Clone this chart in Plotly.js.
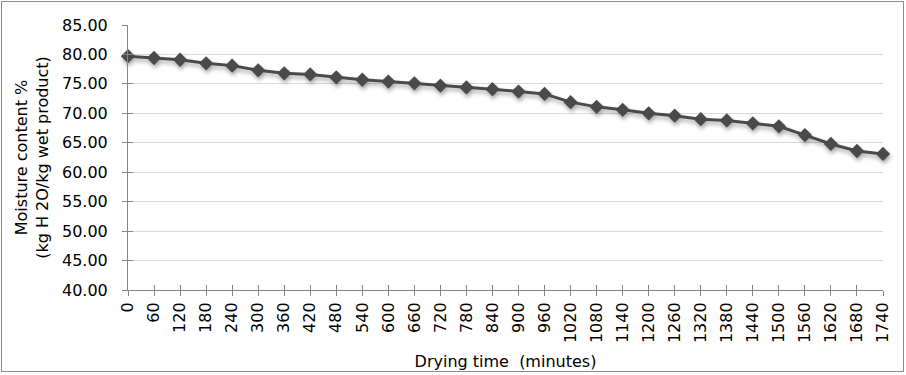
<!DOCTYPE html>
<html>
<head>
<meta charset="utf-8">
<script src="https://cdn.plot.ly/plotly-3.0.1.min.js"></script>
<style>
  html, body { margin: 0; padding: 0; background: #ffffff; }
  #wrap { position: relative; width: 906px; height: 375px; }
  #chart { width: 906px; height: 375px; }
  #frame {
    position: absolute; left: 1px; top: 1px; width: 901px; height: 369px;
    border: 1.5px solid #8c8c8c; pointer-events: none;
  }
  /* soft shadow under the series line and markers */
  #chart .scatterlayer .trace { filter: drop-shadow(1px 3px 2px rgba(0,0,0,0.35)); }
</style>
</head>
<body>
<div id="wrap">
  <div id="chart"></div>
  <div id="frame"></div>
</div>
<script>
// Drying time (minutes)
const dryingTime = [0, 60, 120, 180, 240, 300, 360, 420, 480, 540, 600, 660, 720, 780, 840,
                    900, 960, 1020, 1080, 1140, 1200, 1260, 1320, 1380, 1440, 1500, 1560, 1620, 1680, 1740];
// Moisture content % (kg H2O / kg wet product)
const moisture = [79.7, 79.4, 79.1, 78.5, 78.1, 77.3, 76.8, 76.6, 76.1, 75.7,
                  75.4, 75.1, 74.7, 74.4, 74.1, 73.7, 73.3, 71.9, 71.1, 70.6,
                  70.0, 69.6, 69.0, 68.8, 68.3, 67.8, 66.3, 64.8, 63.6, 63.1];
const yTicks = [40, 45, 50, 55, 60, 65, 70, 75, 80, 85];

const categories = dryingTime.map(String);
const font = { family: 'DejaVu Sans, sans-serif', size: 16, color: '#000000' };
const axisGray = '#868686';

const series = {
  x: categories,
  y: moisture,
  type: 'scatter',
  mode: 'lines+markers',
  cliponaxis: false,
  line: { color: '#4a4a4a', width: 3 },
  marker: { symbol: 'diamond', size: 11, color: '#4a4a4a' },
  hoverinfo: 'x+y'
};

// transparent copy on the overlay axes so their inner tick marks get drawn
const tickCarrier = {
  x: categories,
  y: moisture,
  xaxis: 'x2',
  yaxis: 'y2',
  type: 'scatter',
  mode: 'markers',
  marker: { size: 1, opacity: 0 },
  hoverinfo: 'skip',
  showlegend: false
};

const layout = {
  width: 906,
  height: 375,
  margin: { l: 128, r: 23, t: 25, b: 85 },
  paper_bgcolor: '#ffffff',
  plot_bgcolor: '#ffffff',
  showlegend: false,
  font: font,
  xaxis: {
    type: 'category',
    range: [0, categories.length - 1],
    tickangle: -90,
    ticks: 'outside',
    ticklen: 5,
    tickcolor: axisGray,
    showline: true,
    linecolor: axisGray,
    linewidth: 1,
    showgrid: false,
    zeroline: false,
    tickfont: font,
    title: { text: 'Drying time\u00a0\u00a0(minutes)', font: font, standoff: 13 }
  },
  // inner ticks so the tick marks cross the axis lines
  xaxis2: {
    type: 'category',
    overlaying: 'x',
    anchor: 'y2',
    side: 'bottom',
    range: [0, categories.length - 1],
    ticks: 'inside',
    ticklen: 5,
    tickcolor: axisGray,
    showticklabels: false,
    showgrid: false,
    showline: false,
    zeroline: false
  },
  yaxis: {
    range: [40, 85],
    tickvals: yTicks,
    ticktext: yTicks.map(v => v.toFixed(2)),
    ticks: 'outside',
    ticklen: 5,
    tickcolor: axisGray,
    ticklabelstandoff: 11,
    showline: true,
    linecolor: axisGray,
    linewidth: 1,
    showgrid: true,
    gridcolor: '#d9d9d9',
    gridwidth: 1,
    zeroline: false,
    tickfont: font,
    title: { text: 'Moisture content %<br>(kg H 2O/kg wet product)', font: font, standoff: 9 }
  },
  yaxis2: {
    overlaying: 'y',
    anchor: 'x2',
    side: 'left',
    range: [40, 85],
    tickvals: yTicks,
    ticks: 'inside',
    ticklen: 5,
    tickcolor: axisGray,
    showticklabels: false,
    showgrid: false,
    showline: false,
    zeroline: false
  }
};

Plotly.newPlot('chart', [series, tickCarrier], layout, { displayModeBar: false, staticPlot: true });
</script>
</body>
</html>
